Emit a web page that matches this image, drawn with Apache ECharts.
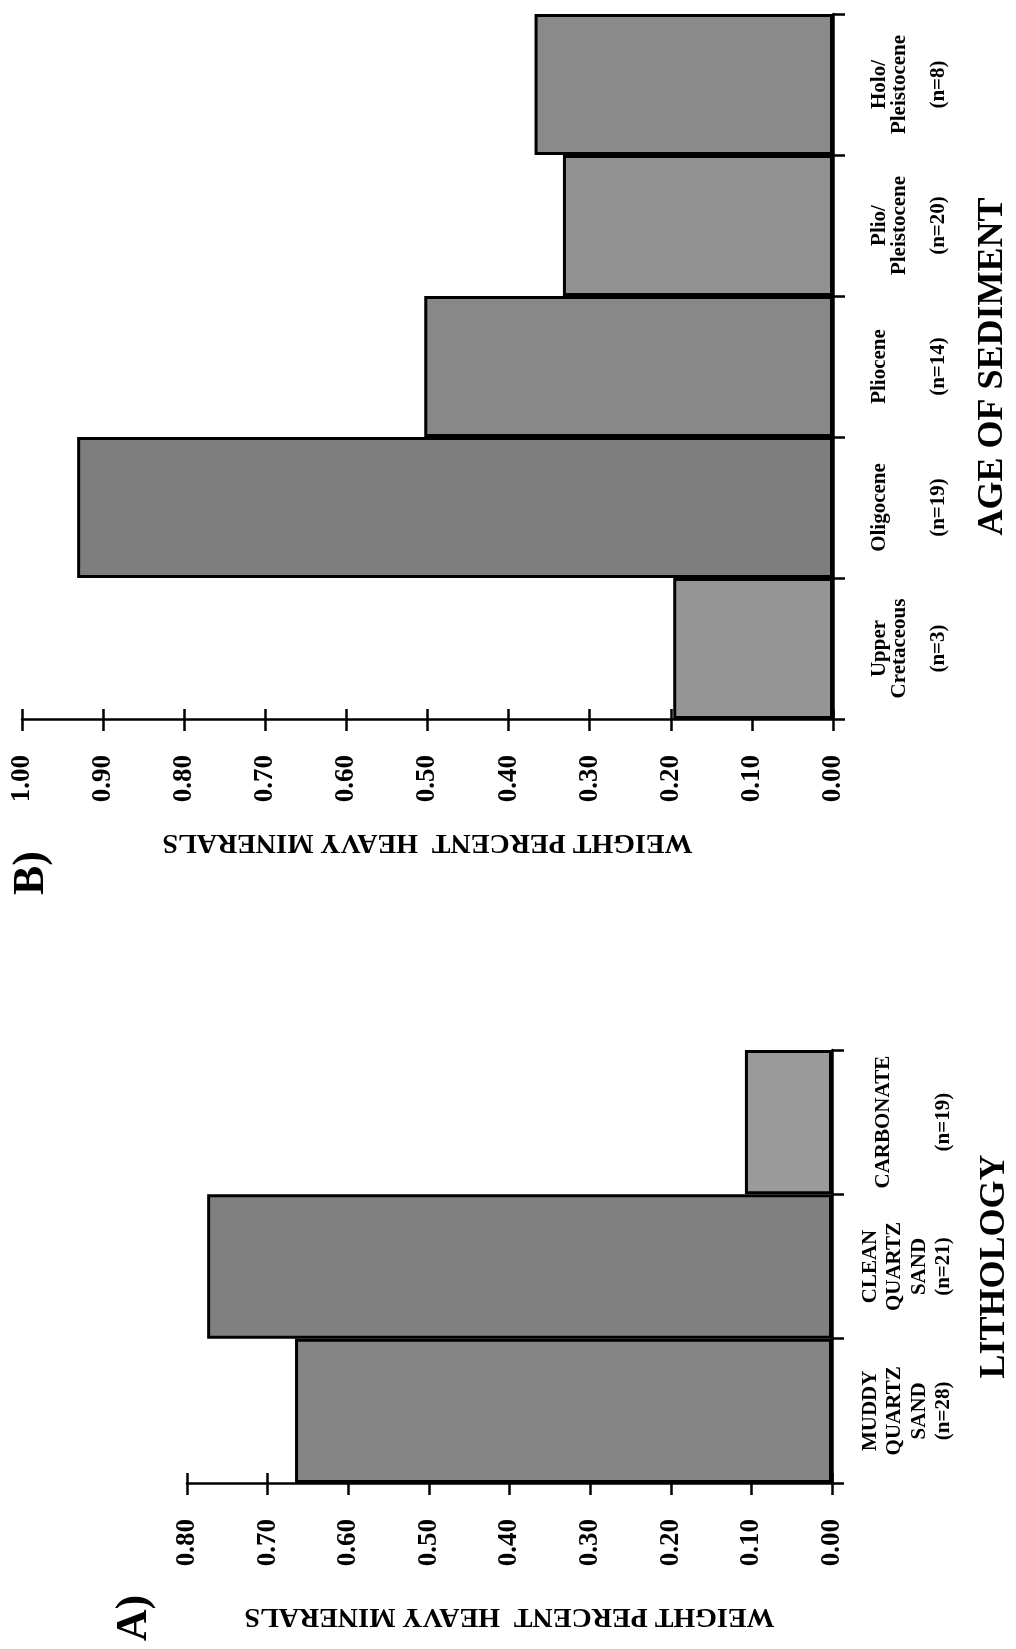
<!DOCTYPE html>
<html>
<head>
<meta charset="utf-8">
<script src="https://cdn.jsdelivr.net/npm/echarts@6/dist/echarts.min.js"></script>
<style>
html,body{margin:0;padding:0;background:#fff;}
#chart{width:1016px;height:1649px;}
</style>
</head>
<body>
<div id="chart"></div>
<script>
// ---- data ----
const catA = ['MUDDY\nQUARTZ\nSAND', 'CLEAN\nQUARTZ\nSAND', 'CARBONATE'];
const nA = [28, 21, 19];
const valA = [0.666, 0.775, 0.108];

const catB = ['Upper\nCretaceous', 'Oligocene', 'Pliocene', 'Plio/\nPleistocene', 'Holo/\nPleistocene'];
const nB = [3, 19, 14, 20, 8];
const valB = [0.197, 0.932, 0.504, 0.333, 0.368];

const axisNameValue = 'WEIGHT PERCENT  HEAVY MINERALS';
const axisNameA = 'LITHOLOGY';
const axisNameB = 'AGE OF SEDIMENT';
const panelA = 'A)';
const panelB = 'B)';

// ---- styles ----
const shadeA = ['#858585', '#808080', '#9a9a9a'];
const shadeB = ['#959595', '#7e7e7e', '#888888', '#919191', '#8a8a8a'];
const FONT = '"Liberation Serif", "Times New Roman", serif';
const line = {color: '#000', width: 2.5};

const chart = echarts.init(document.getElementById('chart'), null, {renderer: 'canvas'});

function valueAxes(gridIndex, max, gap) {
  return [{
    type: 'value', gridIndex: gridIndex, inverse: true, min: 0, max: max, interval: 0.1,
    position: 'bottom',
    axisLine: {show: true, onZero: false, lineStyle: line},
    axisTick: {show: true, length: 12, lineStyle: line},
    splitLine: {show: false},
    axisLabel: {
      rotate: 90, margin: 36, showMinLabel: true, showMaxLabel: true,
      formatter: v => v.toFixed(2),
      fontSize: 27, fontWeight: 'bold', fontFamily: FONT, color: '#000'
    },
    name: axisNameValue, nameLocation: 'middle', nameRotate: 180, nameGap: gap,
    nameMoveOverlap: false,
    nameTextStyle: {fontSize: 28, fontWeight: 'bold', fontFamily: FONT, color: '#000'}
  }, {
    type: 'value', gridIndex: gridIndex, inverse: true, min: 0, max: max, interval: 0.1,
    position: 'bottom',
    axisLine: {show: false, onZero: false},
    axisTick: {show: true, inside: true, length: 10, lineStyle: line},
    splitLine: {show: false},
    axisLabel: {show: false}
  }];
}

function labelB(value) {
  const i = catB.indexOf(value);
  const parts = value.split('\n');
  while (parts.length < 3) parts.push('');
  parts.push('(n=' + nB[i] + ')');
  return parts.join('\n');
}

function labelA(value) {
  const i = catA.indexOf(value);
  const parts = value.split('\n');
  if (parts.length === 1) {
    return '{t| }\n{a|' + parts[0] + '}\n{g| }\n{a|(n=' + nA[i] + ')}';
  }
  return parts.map(p => '{a|' + p + '}').join('\n') + '\n{a|(n=' + nA[i] + ')}';
}

const option = {
  backgroundColor: '#fff',
  animation: false,
  grid: [
    {left: 22, right: 183, top: 14, bottom: 930, outerBoundsMode: 'none', containLabel: false},
    {left: 187, right: 184, top: 1050, bottom: 166, outerBoundsMode: 'none', containLabel: false}
  ],
  xAxis: [].concat(valueAxes(0, 1, 109), valueAxes(1, 0.8, 119)),
  yAxis: [{
    type: 'category', gridIndex: 0, data: catB, position: 'right',
    axisLine: {show: true, onZero: false, lineStyle: line},
    axisTick: {show: true, length: 12, lineStyle: line},
    axisLabel: {
      interval: 0, rotate: 90, margin: 37, formatter: labelB,
      fontSize: 21, lineHeight: 19.5, fontWeight: 'bold', fontFamily: FONT, color: '#000'
    },
    name: axisNameB, nameLocation: 'middle', nameRotate: 90, nameGap: 142, nameMoveOverlap: false,
    nameTextStyle: {fontSize: 36, fontWeight: 'bold', fontFamily: FONT, color: '#000'}
  }, {
    type: 'category', gridIndex: 1, data: catA, position: 'right',
    axisLine: {show: true, onZero: false, lineStyle: line},
    axisTick: {show: true, length: 12, lineStyle: line},
    axisLabel: {
      interval: 0, rotate: 90, margin: 26, formatter: labelA,
      fontSize: 21, fontWeight: 'bold', fontFamily: FONT, color: '#000',
      rich: {
        a: {fontSize: 21, lineHeight: 24.5, fontWeight: 'bold', fontFamily: FONT, color: '#000'},
        t: {fontSize: 10, lineHeight: 13},
        g: {fontSize: 10, lineHeight: 36}
      }
    },
    name: axisNameA, nameLocation: 'middle', nameRotate: 90, nameGap: 145, nameMoveOverlap: false,
    nameTextStyle: {fontSize: 36, fontWeight: 'bold', fontFamily: FONT, color: '#000'}
  }],
  series: [{
    type: 'bar', xAxisIndex: 0, yAxisIndex: 0, data: valB, barCategoryGap: '0%',
    itemStyle: {color: p => shadeB[p.dataIndex], borderColor: '#000', borderWidth: 3}
  }, {
    type: 'bar', xAxisIndex: 2, yAxisIndex: 1, data: valA, barCategoryGap: '0%',
    itemStyle: {color: p => shadeA[p.dataIndex], borderColor: '#000', borderWidth: 3}
  }],
  graphic: [
    {type: 'text', x: 32, y: 873, rotation: Math.PI / 2,
     style: {text: panelB, font: 'bold 44px ' + FONT, fill: '#000', align: 'center', verticalAlign: 'middle', textAlign: 'center', textVerticalAlign: 'middle'}},
    {type: 'text', x: 135, y: 1618, rotation: Math.PI / 2,
     style: {text: panelA, font: 'bold 44px ' + FONT, fill: '#000', align: 'center', verticalAlign: 'middle', textAlign: 'center', textVerticalAlign: 'middle'}}
  ]
};
chart.setOption(option);
</script>
</body>
</html>
